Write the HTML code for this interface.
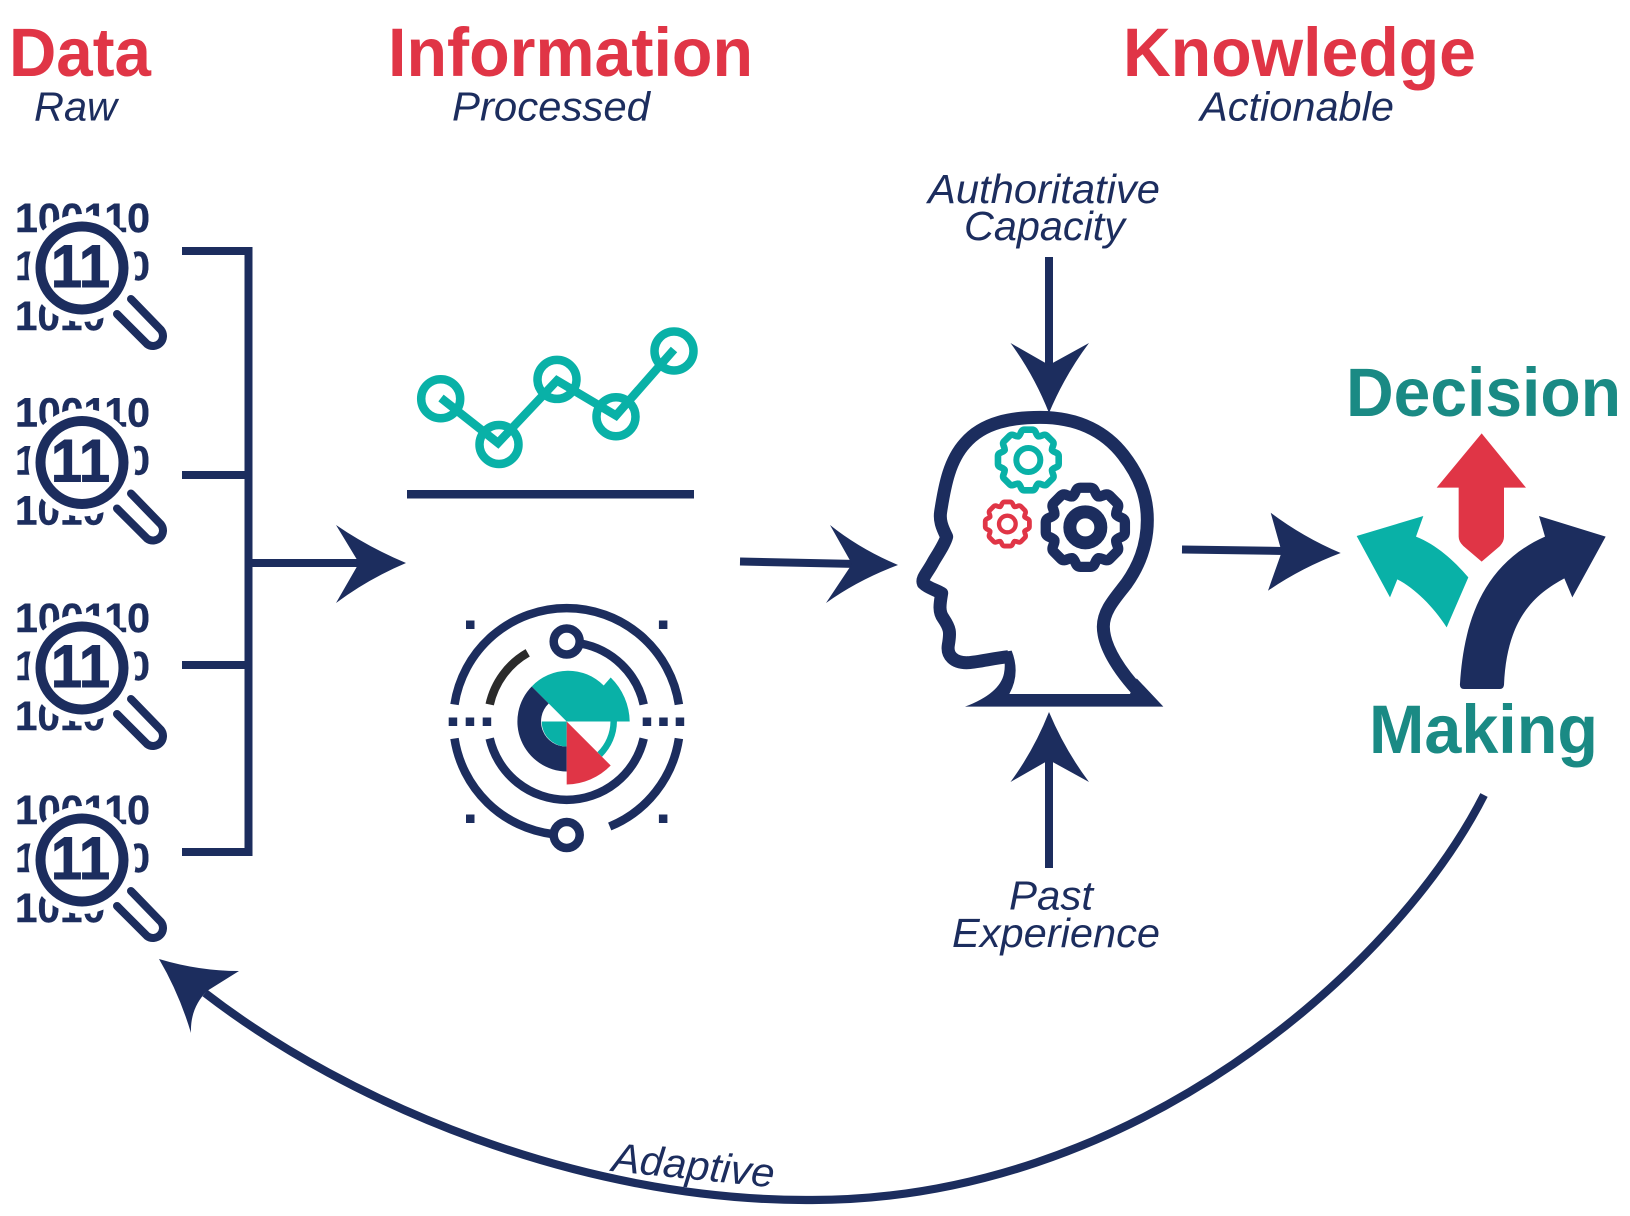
<!DOCTYPE html>
<html lang="en"><head><meta charset="utf-8"><title>Data to Decision Making</title>
<style>html,body{margin:0;padding:0;background:#fff}svg{display:block}
text{font-family:"Liberation Sans",Arial,sans-serif}
.h{font-weight:700;font-size:69px;fill:#e03546}
.t{font-weight:700;font-size:69px;fill:#1a8a84}
.i{font-style:italic;font-size:41px;fill:#1c2d5e}
.b{font-weight:700;font-size:41px;fill:#1c2d5e;stroke:#1c2d5e;stroke-width:.4}
.m{font-weight:700;font-size:60px;fill:#1c2d5e;stroke:#1c2d5e;stroke-width:1}
.n{fill:none;stroke:#1c2d5e;stroke-width:8}
.f{fill:#1c2d5e}
</style></head><body>
<svg width="1630" height="1216" viewBox="0 0 1630 1216" xmlns="http://www.w3.org/2000/svg">
<rect width="1630" height="1216" fill="#fff"/>
<defs>
<path id="th" d="M-.30-.72C-.22-.76-.24-.92-.12-.92L.12-.92C.24-.92.22-.76.30-.72"/>
<g id="gear" fill="none" stroke-linejoin="round" stroke-linecap="round">
<use href="#th"/><use href="#th" transform="rotate(45)"/><use href="#th" transform="rotate(90)"/><use href="#th" transform="rotate(135)"/><use href="#th" transform="rotate(180)"/><use href="#th" transform="rotate(225)"/><use href="#th" transform="rotate(270)"/><use href="#th" transform="rotate(315)"/>
</g>
</defs>

<text class="h" x="9" y="76" textLength="142" lengthAdjust="spacingAndGlyphs">Data</text>
<text class="i" x="34" y="120.5" textLength="83" lengthAdjust="spacingAndGlyphs">Raw</text>
<text class="h" x="388" y="76" textLength="365" lengthAdjust="spacingAndGlyphs">Information</text>
<text class="i" x="452" y="120.5" textLength="198" lengthAdjust="spacingAndGlyphs">Processed</text>
<text class="h" x="1123" y="76" textLength="353" lengthAdjust="spacingAndGlyphs">Knowledge</text>
<text class="i" x="1200" y="120.5" textLength="194" lengthAdjust="spacingAndGlyphs">Actionable</text>

<!-- data icons -->
<g>
<text class="b" x="15" y="232" textLength="135" lengthAdjust="spacingAndGlyphs">100110</text><text class="b" x="15" y="280" textLength="135" lengthAdjust="spacingAndGlyphs">100110</text><text class="b" x="15" y="330" textLength="90" lengthAdjust="spacingAndGlyphs">1010</text>
<circle cx="82" cy="268" r="54" fill="#fff"/><circle cx="82" cy="268" r="41.5" fill="#fff" stroke="#1c2d5e" stroke-width="10"/>
<text class="m" x="51" y="287" textLength="59" lengthAdjust="spacingAndGlyphs">11</text>
<path d="M117 314L147 344A10 10 0 0 0 161 330L131 299" fill="none" stroke="#1c2d5e" stroke-width="8" stroke-linecap="round"/>
</g>
<g transform="translate(0 194.5)">
<text class="b" x="15" y="232" textLength="135" lengthAdjust="spacingAndGlyphs">100110</text><text class="b" x="15" y="280" textLength="135" lengthAdjust="spacingAndGlyphs">100110</text><text class="b" x="15" y="330" textLength="90" lengthAdjust="spacingAndGlyphs">1010</text>
<circle cx="82" cy="268" r="54" fill="#fff"/><circle cx="82" cy="268" r="41.5" fill="#fff" stroke="#1c2d5e" stroke-width="10"/>
<text class="m" x="51" y="287" textLength="59" lengthAdjust="spacingAndGlyphs">11</text>
<path d="M117 314L147 344A10 10 0 0 0 161 330L131 299" fill="none" stroke="#1c2d5e" stroke-width="8" stroke-linecap="round"/>
</g>
<g transform="translate(0 400)">
<text class="b" x="15" y="232" textLength="135" lengthAdjust="spacingAndGlyphs">100110</text><text class="b" x="15" y="280" textLength="135" lengthAdjust="spacingAndGlyphs">100110</text><text class="b" x="15" y="330" textLength="90" lengthAdjust="spacingAndGlyphs">1010</text>
<circle cx="82" cy="268" r="54" fill="#fff"/><circle cx="82" cy="268" r="41.5" fill="#fff" stroke="#1c2d5e" stroke-width="10"/>
<text class="m" x="51" y="287" textLength="59" lengthAdjust="spacingAndGlyphs">11</text>
<path d="M117 314L147 344A10 10 0 0 0 161 330L131 299" fill="none" stroke="#1c2d5e" stroke-width="8" stroke-linecap="round"/>
</g>
<g transform="translate(0 592)">
<text class="b" x="15" y="232" textLength="135" lengthAdjust="spacingAndGlyphs">100110</text><text class="b" x="15" y="280" textLength="135" lengthAdjust="spacingAndGlyphs">100110</text><text class="b" x="15" y="330" textLength="90" lengthAdjust="spacingAndGlyphs">1010</text>
<circle cx="82" cy="268" r="54" fill="#fff"/><circle cx="82" cy="268" r="41.5" fill="#fff" stroke="#1c2d5e" stroke-width="10"/>
<text class="m" x="51" y="287" textLength="59" lengthAdjust="spacingAndGlyphs">11</text>
<path d="M117 314L147 344A10 10 0 0 0 161 330L131 299" fill="none" stroke="#1c2d5e" stroke-width="8" stroke-linecap="round"/>
</g>

<!-- bracket -->
<path class="n" d="M182 251H248.500V852H182M182 475H248M182 665H248M249 563H365"/>
<path class="f" d="M406 563Q368 579 336 603L359 563L336 525Q368 547 406 563Z"/>

<!-- chart -->
<g fill="none" stroke="#09b1a7">
<polyline stroke-width="8.500" points="441,398 498,443 557,380.500 616,415.500 674,349.500"/>
<g stroke-width="8.500">
<circle cx="440.700" cy="398.700" r="19.500"/><circle cx="499" cy="444.500" r="19.500"/><circle cx="557" cy="379.400" r="19.500"/><circle cx="616" cy="416.700" r="19.500"/><circle cx="674" cy="351" r="19.500"/>
</g></g>
<rect x="407" y="490" width="287" height="8.500" fill="#1c2d5e"/>

<!-- radar -->
<g transform="translate(566.700 721.500)">
<g fill="none" stroke="#1c2d5e" stroke-width="8.500">
<path d="M-112.200-17A113.500 113.500 0 0 1 112.200-17"/>
<path d="M-112.200 17A113.500 113.500 0 0 0-14 112.600"/>
<path d="M112.200 17A113.500 113.500 0 0 1 43 105"/>
<path d="M-77 17A79 79 0 0 0 77 17"/>
<path d="M14-78A79 79 0 0 1 77-17"/>
<circle cx="0" cy="-80" r="13" fill="#fff"/>
<circle cx="0" cy="113.500" r="13" fill="#fff"/>
</g>
<path d="M-77-17A79 79 0 0 1-39-68.700" fill="none" stroke="#2b2b2b" stroke-width="8.500"/>
<g class="f">
<rect x="-100.700" y="-101" width="8.500" height="8.500"/><rect x="92.200" y="-101" width="8.500" height="8.500"/><rect x="-100.700" y="93" width="8.500" height="8.500"/><rect x="92.200" y="93" width="8.500" height="8.500"/>
<rect x="-118" y="-4" width="8.500" height="8.500"/><rect x="-101" y="-4" width="8.500" height="8.500"/><rect x="-84" y="-4" width="8.500" height="8.500"/>
<rect x="76" y="-4" width="8.500" height="8.500"/><rect x="92.500" y="-4" width="8.500" height="8.500"/><rect x="109" y="-4" width="8.500" height="8.500"/>
</g>
<path d="M47 0A47 47 0 0 1 33 33" fill="none" stroke="#09b1a7" stroke-width="6.500"/>
<path d="M0 0L-35-35A50 50 0 0 1 37-36L44-44A63 63 0 0 1 63 0Z" fill="#09b1a7"/>
<path d="M-35-35A50 50 0 0 0 0 50L0 25A25 25 0 0 1-18-18Z" fill="#1c2d5e"/>
<path d="M0 0L-25 0A25 25 0 0 0 0 25Z" fill="#09b1a7"/>
<path d="M0 0L44 44A63 63 0 0 1 0 63Z" fill="#e03546"/>
</g>

<!-- arrow to head -->
<path class="n" d="M740 561.500L858 564"/>
<path class="f" d="M898 565Q858 580 826 603L852 564L830 525Q860 549 898 565Z"/>

<!-- vertical arrows -->
<path class="n" d="M1049 257V372"/>
<path class="f" d="M1049 413Q1034 375 1010.500 343L1049 365L1089 343Q1065 375 1049 413Z"/>
<path class="n" d="M1049 868V752"/>
<path class="f" d="M1049 712Q1034 750 1010.500 782L1049 760L1089 782Q1065 750 1049 712Z"/>

<text class="i" x="928" y="203" textLength="232" lengthAdjust="spacingAndGlyphs">Authoritative</text>
<text class="i" x="964" y="240" textLength="161" lengthAdjust="spacingAndGlyphs">Capacity</text>
<text class="i" x="1009" y="909.500" textLength="84" lengthAdjust="spacingAndGlyphs">Past</text>
<text class="i" x="952" y="947" textLength="208" lengthAdjust="spacingAndGlyphs">Experience</text>

<!-- head -->
<g transform="translate(900 380) scale(.33333)">
<path d="M325 830C280 835 240 845 205 848C160 850 140 825 145 795C152 755 150 745 130 715C115 695 120 670 125 640C105 628 85 625 70 610C63 595 85 575 100 545C115 520 135 490 140 470C125 440 118 420 122 395C135 310 150 240 195 190C250 125 340 112 420 112C540 112 620 160 670 225C720 290 742 350 742 420C742 500 715 560 680 610C650 650 610 690 610 740C610 800 660 880 740 960" fill="none" stroke="#1c2d5e" stroke-width="39" stroke-linejoin="round"/>
<path class="f" d="M195 980Q300 940 312 880Q318 850 308 816L335 812Q362 880 328 942L690 942L710 895L790 980Z"/>
<g transform="translate(385 240) scale(99)" stroke="#09b1a7" stroke-width=".2"><use href="#gear"/></g>
<circle cx="385" cy="240" r="36" fill="none" stroke="#09b1a7" stroke-width="18"/>
<g transform="translate(322 432) scale(72)" stroke="#e03546" stroke-width=".2"><use href="#gear"/></g>
<circle cx="322" cy="432" r="25" fill="none" stroke="#e03546" stroke-width="13"/>
<g transform="translate(556 442) scale(129)" stroke="#1c2d5e" stroke-width=".24"><use href="#gear"/></g>
<circle cx="556" cy="442" r="46.500" fill="none" stroke="#1c2d5e" stroke-width="39"/>
</g>

<!-- arrow to decision -->
<path class="n" d="M1182 549.500L1284 551"/>
<path class="f" d="M1340.700 553Q1301 568 1268 590.700L1281.700 552L1270.700 512.700Q1303 537 1340.700 553Z"/>

<text class="t" x="1346" y="416" textLength="275" lengthAdjust="spacingAndGlyphs">Decision</text>
<text class="t" x="1369" y="753" textLength="229" lengthAdjust="spacingAndGlyphs">Making</text>

<g transform="translate(1170 340) scale(.33333)">
<path fill="#e03546" d="M935 280L1068 443L1002 443L1002 590Q1002 605 990 618L935 665L880 618Q866 605 866 590L866 443L800 443Z"/>
<path fill="#09b1a7" d="M560 588L760 528L738 590C800 615 850 660 895 712L830 862C790 800 735 745 682 718L660 772Z"/>
<path fill="#1c2d5e" d="M870 1030C880 880 920 680 1125 590L1107 528L1307 590L1207 772L1183 715C1100 760 1010 830 1002 1035Q1000 1047 990 1047L882 1047Q868 1047 870 1030Z"/>
</g>

<!-- adaptive -->
<path d="M1484 795C1395 970 1130 1203 806 1200C580 1200 350 1105 205 993" fill="none" stroke="#1c2d5e" stroke-width="8.200"/>
<path class="f" d="M159 959Q199 971 239 971L207 991Q190 1008 191 1033Q179 993 159 959Z"/>
<text class="i" transform="translate(611 1171) rotate(5.800)" x="0" y="0" textLength="163" lengthAdjust="spacingAndGlyphs">Adaptive</text>
</svg>
</body></html>
